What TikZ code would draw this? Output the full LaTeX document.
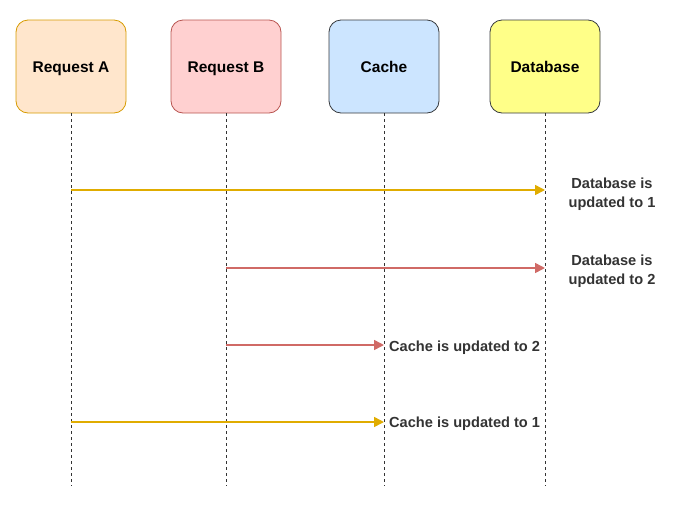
\documentclass[tikz,border=0pt]{standalone}
\usepackage{fontspec}
\setmainfont{Liberation Sans}
\usetikzlibrary{arrows.meta}
\definecolor{aFill}{HTML}{FFE6CC}\definecolor{aDraw}{HTML}{D79B00}
\definecolor{bFill}{HTML}{FFD0D0}\definecolor{bDraw}{HTML}{B85450}
\definecolor{cFill}{HTML}{CCE5FF}\definecolor{cDraw}{HTML}{36393D}
\definecolor{dFill}{HTML}{FFFF88}\definecolor{dDraw}{HTML}{36393D}
\definecolor{yArrow}{HTML}{E0AC00}\definecolor{rArrow}{HTML}{D06A66}
\definecolor{txt}{HTML}{333333}
\begin{document}
\begin{tikzpicture}[x=1pt,y=-1pt,
  actor/.style={draw, rounded corners=12pt, minimum width=110pt, minimum height=93pt, font=\bfseries\fontsize{15.5}{19}\selectfont, text=black, line width=0.8pt, text height=13pt, text depth=1pt},
  life/.style={draw=black!80, dashed, dash pattern=on 3pt off 3pt, line width=0.8pt},
  msg/.style={line width=1.6pt, -{Triangle[length=10pt,width=10pt]}},
  lbl/.style={font=\bfseries\fontsize{14.6}{19}\selectfont, text=txt, align=center, inner sep=0pt}]
\useasboundingbox (0,0) rectangle (699,504);
\node[actor, fill=aFill, draw=aDraw] (A) at (71,66.5) {Request A};
\node[actor, fill=bFill, draw=bDraw] (B) at (226,66.5) {Request B};
\node[actor, fill=cFill, draw=cDraw] (C) at (384,66.5) {Cache};
\node[actor, fill=dFill, draw=dDraw] (D) at (545,66.5) {Database};
\coordinate (Ae) at (71,486);
\coordinate (Be) at (226,486);
\coordinate (Ce) at (384,486);
\coordinate (De) at (545,486);
\draw[life] (A.south) -- (Ae);
\draw[life] (B.south) -- (Be);
\draw[life] (C.south) -- (Ce);
\draw[life] (D.south) -- (De);
\coordinate (a1) at (71,190); \coordinate (d1) at (545,190);
\coordinate (b2) at (226,268); \coordinate (d2) at (545,268);
\coordinate (b3) at (226,345); \coordinate (c3) at (384,345);
\coordinate (a4) at (71,422); \coordinate (c4) at (384,422);
\draw[msg, yArrow] (a1) -- (d1);
\draw[msg, rArrow] (b2) -- (d2);
\draw[msg, rArrow] (b3) -- (c3);
\draw[msg, yArrow] (a4) -- (c4);
\node[lbl] (l1) at (612,194) {Database is\\updated to 1};
\node[lbl] (l2) at (612,271.5) {Database is\\updated to 2};
\node[lbl, anchor=west] (l3) at (389,348) {Cache is updated to 2};
\node[lbl, anchor=west] (l4) at (389,424) {Cache is updated to 1};
\end{tikzpicture}
\end{document}
